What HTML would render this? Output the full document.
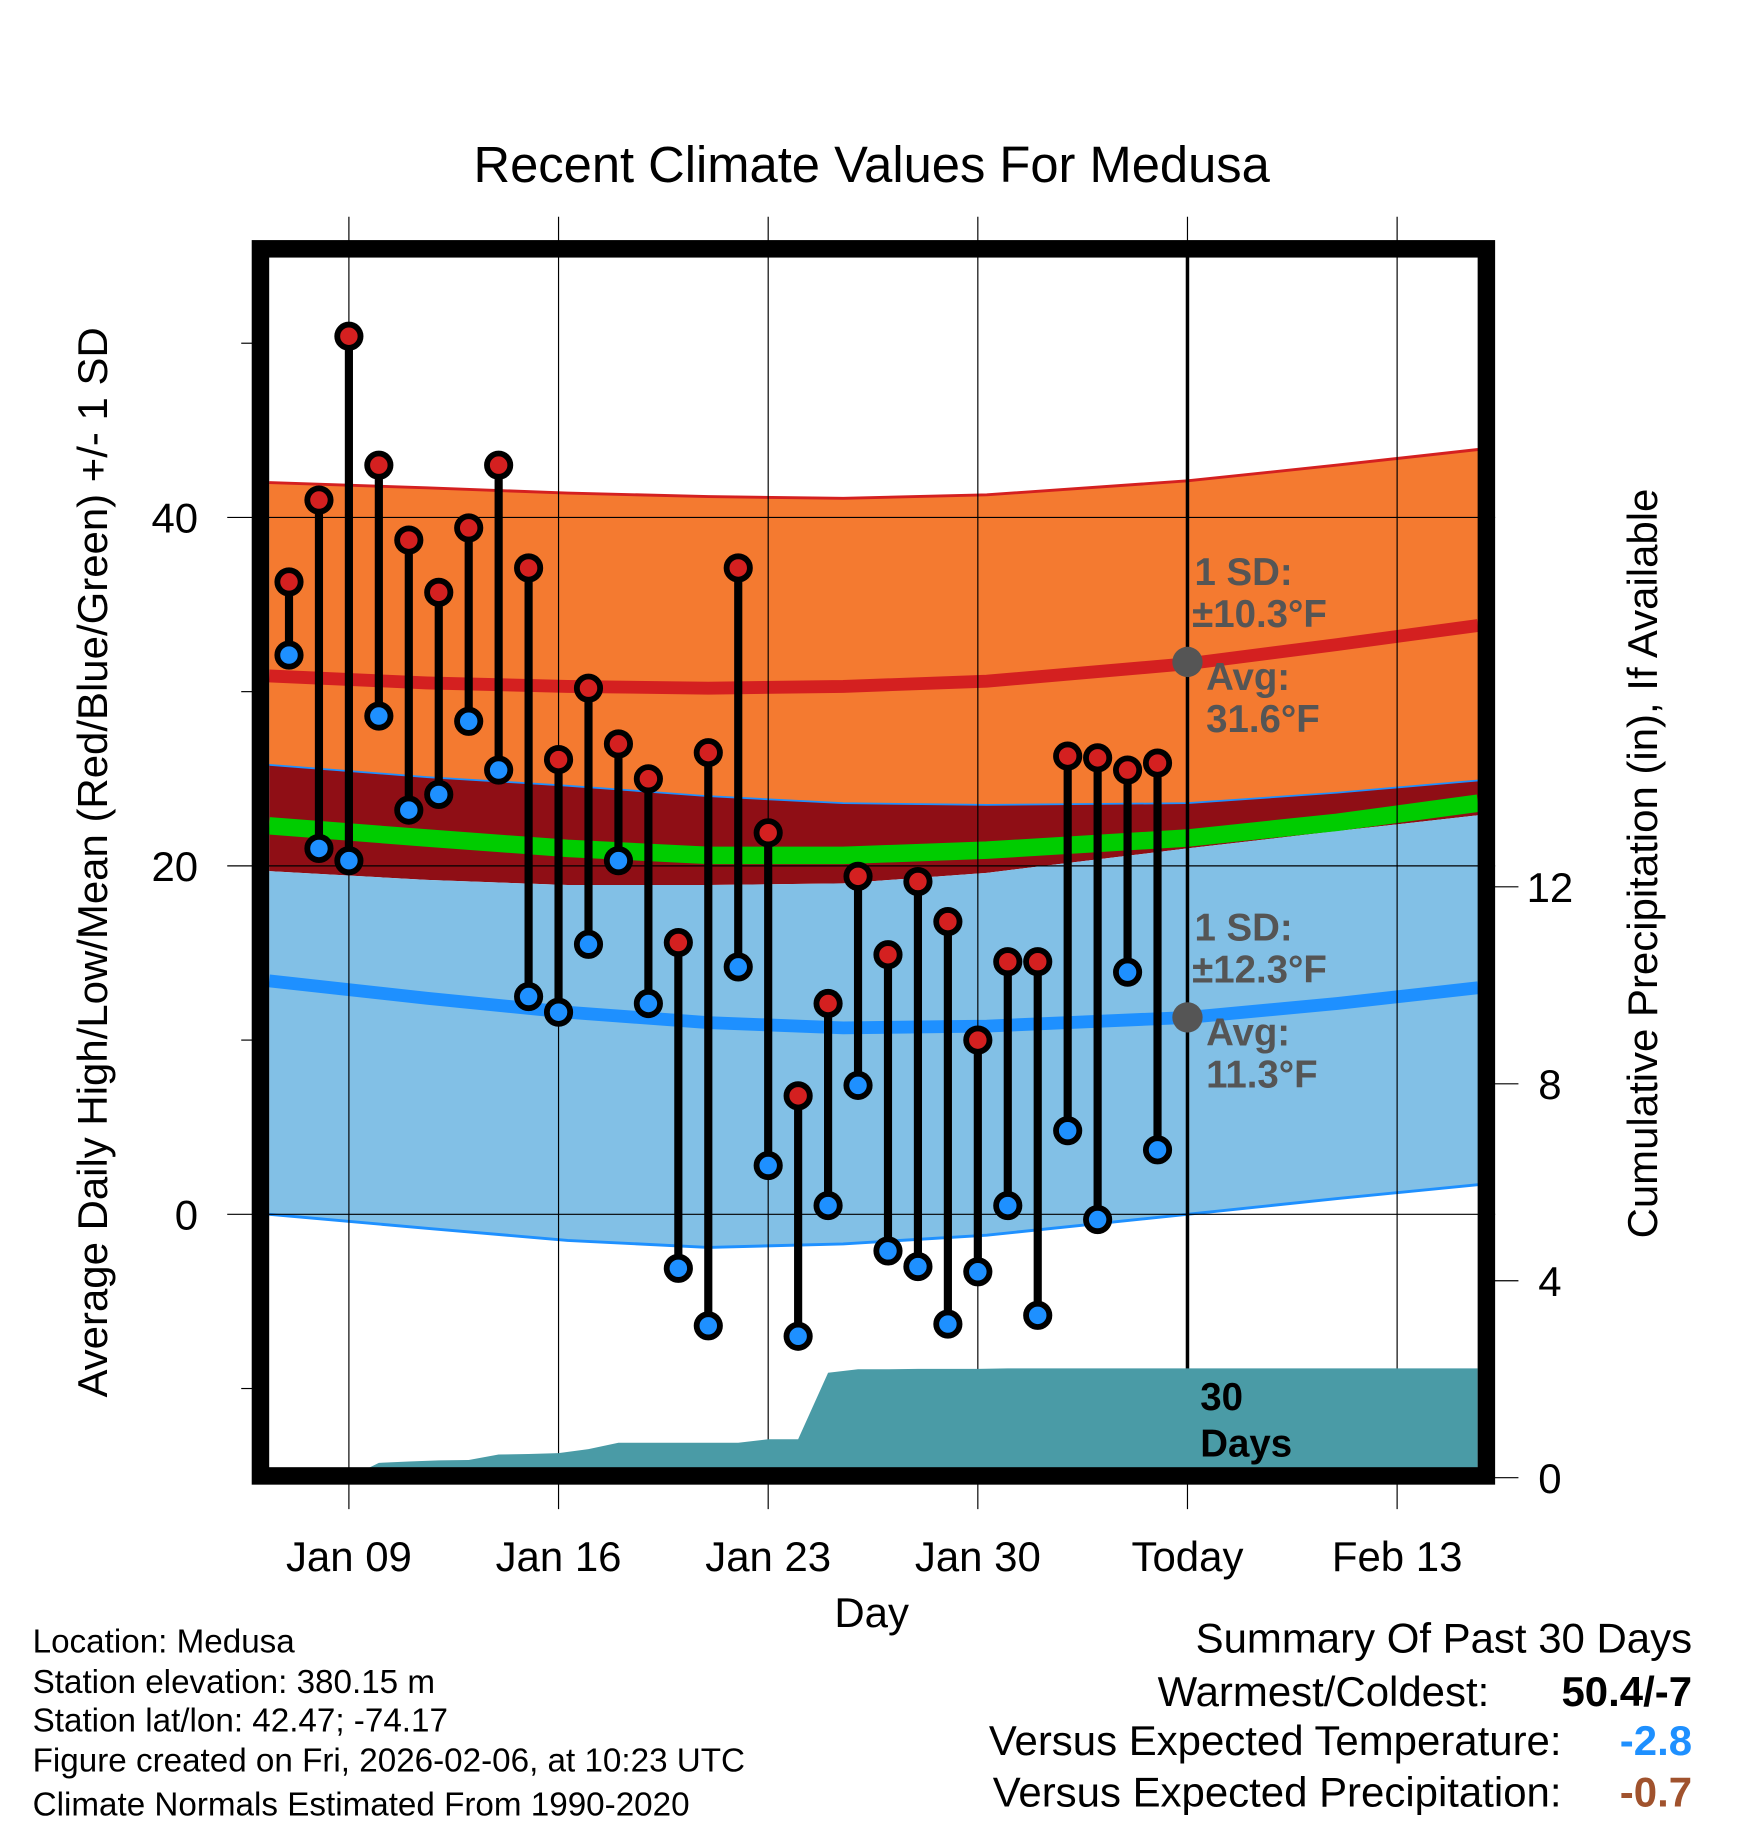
<!DOCTYPE html>
<html><head><meta charset="utf-8"><style>
html,body{margin:0;padding:0;background:#fff}
svg{display:block}
text{font-family:"Liberation Sans",Arial,sans-serif}
</style></head><body>
<svg id="chart" width="1748" height="1828" viewBox="0 0 1500 1568.6" xmlns="http://www.w3.org/2000/svg">
<text x="748" y="156" font-size="43.5" text-anchor="middle">Recent Climate Values For Medusa</text>
<g id="bands"></g>
<g id="grid"></g>
<g id="precip"></g>
<g id="marks"></g>
<rect x="223.5" y="213.5" width="1052" height="1053" fill="none" stroke="#000" stroke-width="15"/>
<g id="axes"></g>
<text transform="translate(92,740) rotate(-90)" font-size="36" text-anchor="middle">Average Daily High/Low/Mean (Red/Blue/Green) +/- 1 SD</text>
<text transform="translate(1422,741) rotate(-90)" font-size="36" text-anchor="middle">Cumulative Precipitation (in), If Available</text>
<text x="748" y="1396" font-size="36" text-anchor="middle">Day</text>
<g fill="#555" font-weight="bold" font-size="33">
<text x="1025" y="502">1 SD:</text><text x="1023" y="538">±10.3°F</text>
<text x="1035" y="592">Avg:</text><text x="1035" y="628">31.6°F</text>
<text x="1025" y="807">1 SD:</text><text x="1023" y="843">±12.3°F</text>
<text x="1035" y="897">Avg:</text><text x="1035" y="933">11.3°F</text>
</g>
<circle cx="1019" cy="568" r="13" fill="#555"/>
<circle cx="1019" cy="873" r="13" fill="#555"/>
<text x="1030" y="1210" font-size="33" font-weight="bold">30</text>
<text x="1030" y="1250" font-size="33" font-weight="bold">Days</text>
<g font-size="28.5">
<text x="28" y="1418">Location: Medusa</text>
<text x="28" y="1453">Station elevation: 380.15 m</text>
<text x="28" y="1486">Station lat/lon: 42.47; -74.17</text>
<text x="28" y="1520">Figure created on Fri, 2026-02-06, at 10:23 UTC</text>
<text x="28" y="1558">Climate Normals Estimated From 1990-2020</text>
</g>
<g font-size="36" text-anchor="end">
<text x="1452" y="1418">Summary Of Past 30 Days</text>
<text x="1278" y="1464">Warmest/Coldest:</text>
<text x="1452" y="1464" font-weight="bold">50.4/-7</text>
<text x="1340" y="1506">Versus Expected Temperature:</text>
<text x="1452" y="1506" font-weight="bold" fill="#1e90ff">-2.8</text>
<text x="1340" y="1550">Versus Expected Precipitation:</text>
<text x="1452" y="1550" font-weight="bold" fill="#a0522d">-0.7</text>
</g>
</svg>
<script>
const highs=[36.3,41,50.4,43,38.7,35.7,39.4,43,37.1,26.1,30.2,27,25,15.6,26.5,37.1,21.9,6.8,12.1,19.4,14.9,19.1,16.8,10,14.5,14.5,26.3,26.2,25.5,25.9];
const lows=[32.1,21,20.3,28.6,23.2,24.1,28.3,25.5,12.5,11.6,15.5,20.3,12.1,-3.1,-6.4,14.2,2.8,-7,0.5,7.4,-2.1,-3,-6.3,-3.3,0.5,-5.8,4.8,-0.3,13.9,3.7];
const normDays=[-0.66,4.6,9.3,14,18.5,23.3,30,35,39.7];
const hiTop=[42.0,41.7,41.4,41.2,41.1,41.3,42.1,43.0,43.9];
const hiMean=[30.9,30.5,30.3,30.2,30.3,30.6,31.6,32.7,33.8];
const hiBot=[25.8,25.1,24.6,24.0,23.6,23.5,23.6,24.2,24.9];
const avgMean=[22.3,21.6,21.0,20.6,20.6,20.9,21.6,22.5,23.6];
const loTop=[19.7,19.2,18.9,18.9,19.0,19.6,21.0,22.0,22.9];
const loMean=[13.4,12.4,11.6,11.0,10.7,10.8,11.3,12.1,13.0];
const loBot=[0.0,-0.8,-1.5,-1.9,-1.7,-1.2,0.0,0.9,1.7];
const precip=[0,0,0,0.3,0.33,0.35,0.36,0.47,0.48,0.5,0.58,0.71,0.71,0.71,0.71,0.71,0.78,0.78,2.13,2.2,2.2,2.21,2.21,2.21,2.22,2.22,2.22,2.22,2.22,2.22];
const xTickDays=[2,9,16,23,30,37];
const xTickLabels=["Jan 09","Jan 16","Jan 23","Jan 30","Today","Feb 13"];
const yTicks=[0,20,40];
const yMinor=[-10,10,30,50];
const y2Ticks=[0,4,8,12];

const NS="http://www.w3.org/2000/svg";
const X=d=>248+25.7*d;
const Y=t=>1042-14.95*t;
const Y2=p=>1268-42.25*p;
const L=231,R=1268,T=220,B=1260;
function mk(tag,attrs,parent){const e=document.createElementNS(NS,tag);for(const k in attrs)e.setAttribute(k,attrs[k]);document.getElementById(parent).appendChild(e);return e;}
function pts(arr){return normDays.map((d,i)=>X(d).toFixed(1)+","+Y(arr[i]).toFixed(1));}
function band(top,bot,fill,name){
  const e=mk('polygon',{points:pts(top).concat(pts(bot).reverse()).join(' '),fill:fill},'bands');
  
  
}
function line(arr,col,w,name){
  const e=mk('polyline',{points:pts(arr).join(' '),fill:'none',stroke:col,'stroke-width':w},'bands');
  
  
}
band(hiTop,hiBot,'#f47a30','high-sd-band');
band(hiBot,loTop,'#8f0e15','between-band');
band(loTop,loBot,'#82c0e6','low-sd-band');
line(avgMean,'#00cc00',15,'mean-line');
line(hiTop,'#d42020',2.5,'high-plus-sd-line');
line(hiBot,'#1e90ff',1.5,'high-minus-sd-line');
line(hiMean,'#d42020',11,'high-normal-line');
line(loMean,'#1e90ff',11,'low-normal-line');
line(loBot,'#1e90ff',2.5,'low-minus-sd-line');

xTickDays.forEach((d,i)=>{
  const today=xTickLabels[i]==="Today";
  const g=mk('line',{x1:X(d),x2:X(d),y1:today?T:186,y2:today?B:1295,stroke:'#000','stroke-width':today?3:1},'grid');
  
  
  if(today){const t2=mk('line',{x1:X(d),x2:X(d),y1:186,y2:1295,stroke:'#000','stroke-width':1},'grid');
    
    }
  const t=mk('text',{x:X(d),y:1348,'font-size':36,'text-anchor':'middle'},'axes');t.textContent=xTickLabels[i];
  
  
});
yTicks.forEach(v=>{
  const g=mk('line',{x1:195,x2:1283,y1:Y(v),y2:Y(v),stroke:'#000','stroke-width':1},'grid');
  
  
  const t=mk('text',{x:170,y:Y(v)+13,'font-size':36,'text-anchor':'end'},'axes');t.textContent=v;
  
  
});
yMinor.forEach(v=>{
  const g=mk('line',{x1:207,x2:218,y1:Y(v),y2:Y(v),stroke:'#000','stroke-width':1},'axes');
  
  
});
y2Ticks.forEach(v=>{
  const g=mk('line',{x1:1280,x2:1303,y1:Y2(v),y2:Y2(v),stroke:'#000','stroke-width':1},'axes');
  
  
  const t=mk('text',{x:1330,y:Y2(v)+13,'font-size':36,'text-anchor':'middle'},'axes');t.textContent=v;
  
  
});

let pp=precip.map((p,i)=>X(i).toFixed(1)+","+Y2(p).toFixed(1));
pp.push(R+","+Y2(precip[precip.length-1]).toFixed(1));
pp.push(R+","+Y2(0));pp.push(X(0)+","+Y2(0));
const pa=mk('polygon',{points:pp.join(' '),fill:'#4a9ba6'},'precip');



highs.forEach((h,i)=>{
  const l=lows[i];
  const s=mk('line',{x1:X(i),x2:X(i),y1:Y(h),y2:Y(l),stroke:'#000','stroke-width':7},'marks');
  
  
});
highs.forEach((h,i)=>{
  const c1=mk('circle',{cx:X(i),cy:Y(h),r:10,fill:'#d42020',stroke:'#000','stroke-width':5},'marks');
  
  
  const c2=mk('circle',{cx:X(i),cy:Y(lows[i]),r:10,fill:'#1e90ff',stroke:'#000','stroke-width':5},'marks');
  
  
});
</script>
</body></html>
